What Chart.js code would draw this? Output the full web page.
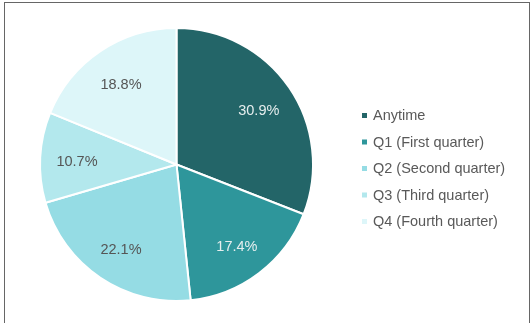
<!DOCTYPE html>
<html>
<head>
<meta charset="utf-8">
<script src="https://cdn.jsdelivr.net/npm/chart.js@4.4.0/dist/chart.umd.min.js"></script>
<style>
  html, body { margin: 0; padding: 0; background: #fff; }
  #wrap { position: relative; width: 530px; height: 323px; }
  #frame { position: absolute; left: 4px; top: 2px; width: 524px; height: 330px;
           border: 1px solid #666; border-bottom: none; pointer-events: none; }
  canvas { position: absolute; left: 0; top: 0; }
</style>
</head>
<body>
<div id="wrap">
  <canvas id="myChart" width="530" height="323"></canvas>
  <div id="frame"></div>
</div>
<script>
const labels = ['Anytime', 'Q1 (First quarter)', 'Q2 (Second quarter)', 'Q3 (Third quarter)', 'Q4 (Fourth quarter)'];
const shares = [30.9, 17.4, 22.1, 10.7, 18.8];
const colors = ['#236568', '#2e969b', '#95dce4', '#b3e8ed', '#ddf6f9'];
const labelColors = ['#e6eeee', '#e6eeee', '#555555', '#555555', '#555555'];

const FONT = '"Liberation Sans", Arial, sans-serif';

// percent labels inside each slice
const sliceLabels = {
    id: 'sliceLabels',
    afterDatasetsDraw(chart) {
        const ctx = chart.ctx;
        const meta = chart.getDatasetMeta(0);
        ctx.save();
        ctx.font = '14.5px ' + FONT;
        ctx.textAlign = 'center';
        ctx.textBaseline = 'middle';
        meta.data.forEach((arc, i) => {
            const p = arc.getProps(['x', 'y', 'startAngle', 'endAngle', 'outerRadius']);
            const mid = (p.startAngle + p.endAngle) / 2;
            const r = p.outerRadius * 0.73;
            ctx.fillStyle = labelColors[i];
            ctx.fillText(shares[i].toFixed(1) + '%', p.x + Math.cos(mid) * r, p.y + Math.sin(mid) * r + 3);
        });
        ctx.restore();
    }
};

// legend on the right with small square markers
const sideLegend = {
    id: 'sideLegend',
    afterDraw(chart) {
        const ctx = chart.ctx;
        ctx.save();
        ctx.font = '14.5px ' + FONT;
        ctx.textBaseline = 'middle';
        labels.forEach((lab, i) => {
            const y = 116 + i * 26.5;
            ctx.fillStyle = colors[i];
            ctx.fillRect(362, y - 3, 5, 5);
            ctx.fillStyle = '#595959';
            ctx.fillText(lab, 373, y);
        });
        ctx.restore();
    }
};

const ctx = document.getElementById('myChart').getContext('2d');
const myChart = new Chart(ctx, {
    type: 'pie',
    data: {
        labels: labels,
        datasets: [{
            data: shares,
            backgroundColor: colors,
            borderColor: '#ffffff',
            borderWidth: 2
        }]
    },
    options: {
        responsive: false,
        animation: false,
        layout: { padding: { left: 39, right: 216, top: 27, bottom: 21 } },
        plugins: {
            legend: { display: false },
            tooltip: { enabled: false }
        }
    },
    plugins: [sliceLabels, sideLegend]
});
</script>
</body>
</html>
